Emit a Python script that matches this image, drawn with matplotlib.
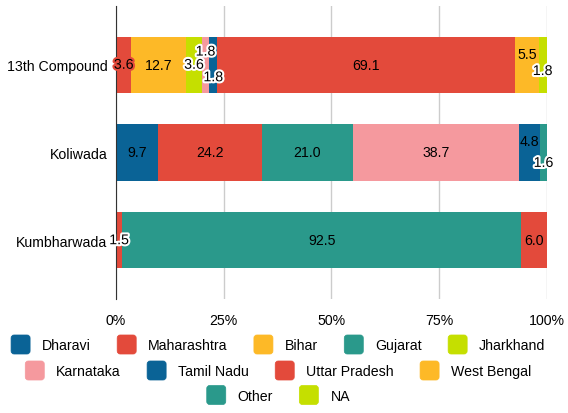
import numpy as np
import matplotlib.pyplot as plt
import matplotlib.patheffects as pe
from matplotlib.patches import Patch, FancyBboxPatch
from matplotlib.legend_handler import HandlerPatch

plt.rcParams['font.family'] = ['Liberation Sans', 'DejaVu Sans']
plt.rcParams['font.size'] = 10.2

sites = ['13th Compound', 'Koliwada', 'Kumbharwada']
states = ['Dharavi', 'Maharashtra', 'Bihar', 'Gujarat', 'Jharkhand',
          'Karnataka', 'Tamil Nadu', 'Uttar Pradesh', 'West Bengal', 'Other', 'NA']
colors = ['#0a6396', '#e34a3b', '#fdb927', '#2a998b', '#c5df00',
          '#f5999e', '#0a6396', '#e34a3b', '#fdb927', '#2a998b', '#c5df00']

# percent share per state, rows = sites
dharavi     = [0.0, 9.7, 0.0]
maharashtra = [3.6, 24.2, 1.5]
bihar       = [12.7, 0.0, 0.0]
gujarat     = [0.0, 21.0, 92.5]
jharkhand   = [3.6, 0.0, 0.0]
karnataka   = [1.8, 38.7, 0.0]
tamil_nadu  = [1.8, 4.8, 0.0]
uttar       = [69.1, 0.0, 6.0]
west_bengal = [5.5, 0.0, 0.0]
other       = [0.0, 1.6, 0.0]
na          = [1.8, 0.0, 0.0]
series = [dharavi, maharashtra, bihar, gujarat, jharkhand, karnataka,
          tamil_nadu, uttar, west_bengal, other, na]

# label nudges (points) for crowded small segments: (site, state) -> dy
nudge = {(0, 5): 9.5, (0, 6): -9, (0, 8): 7.5, (0, 10): -4.5,
         (1, 6): 8.5, (1, 9): -7.5}


def rounded_box(legend, orig_handle, xdescent, ydescent, width, height, fontsize):
    s = 13.7
    return FancyBboxPatch((-xdescent + (width - s) / 2, -ydescent + (height - s) / 2),
                          s, s, boxstyle='round,pad=0,rounding_size=2.2')


fig = plt.figure(figsize=(5.68, 4.14), dpi=100)
ax = fig.add_axes([0.204, 0.2754, 0.759, 0.7077])

y = np.arange(len(sites))
left = np.zeros(len(sites))
for j, vals in enumerate(series):
    vals = np.array(vals)
    ax.barh(y, vals, left=left, height=0.64, color=colors[j], zorder=2)
    for i, v in enumerate(vals):
        if v <= 0:
            continue
        cx = left[i] + v / 2
        fx = []
        if v < 4:
            halo = colors[j] if (i == 0 and j == 1) else 'white'
            fx = [pe.withStroke(linewidth=3, foreground=halo)]
        ax.annotate(f'{v:.1f}', (cx, y[i]), xytext=(0, nudge.get((i, j), 0)),
                    textcoords='offset points', ha='center', va='center',
                    fontsize=10.2, color='black', path_effects=fx, zorder=4)
    left += vals

ax.set_xlim(0, 100)
ax.set_ylim(2.67, -0.67)
ax.set_yticks(y)
ax.set_yticklabels(sites)
ax.set_xticks([0, 25, 50, 75, 100])
ax.set_xticklabels(['0%', '25%', '50%', '75%', '100%'])
ax.tick_params(axis='both', length=0, labelsize=10.2)
ax.tick_params(axis='x', pad=10)
ax.tick_params(axis='y', pad=6)
ax.grid(axis='x', color='#cccccc', lw=1, zorder=0)
for s in ['top', 'right', 'bottom']:
    ax.spines[s].set_visible(False)
ax.spines['left'].set_color('#333333')
ax.spines['left'].set_zorder(3)

rows = [[0, 1, 2, 3, 4], [5, 6, 7, 8], [9, 10]]
row_y = [1 - 345.5 / 414, 1 - 371.5 / 414, 1 - 396 / 414]
for r, ry in zip(rows, row_y):
    handles = [Patch(facecolor=colors[k], edgecolor=colors[k], lw=0.5) for k in r]
    fig.legend(handles, [states[k] for k in r], loc='center',
               bbox_to_anchor=(0.49, ry), ncol=len(r), frameon=False,
               handlelength=1.34, handleheight=1.34, handletextpad=0.85,
               columnspacing=1.85, fontsize=10.2, borderpad=0,
               handler_map={Patch: HandlerPatch(patch_func=rounded_box)})

fig.savefig('out.png', dpi=100)
